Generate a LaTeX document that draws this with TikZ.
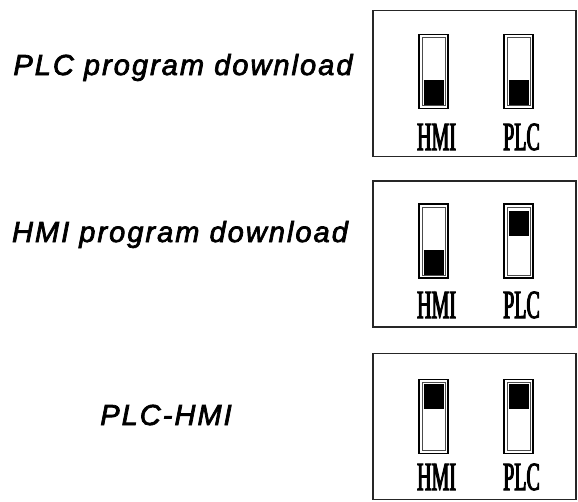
\documentclass[tikz,border=0pt]{standalone}
\usepackage{fontspec}
\usepackage{tikz}
\usetikzlibrary{positioning}

\newfontfamily\modefont[FakeBold=2.5, LetterSpace=7]{Liberation Sans}
\newfontfamily\tagfont[FakeStretch=0.5, FakeBold=2.5]{Liberation Serif}

\begin{document}
\begin{tikzpicture}[x=1pt, y=-1pt,
    panel/.style={rectangle, draw=black!85, line width=1.2pt, minimum width=203pt, minimum height=146pt, inner sep=0pt},
    slot/.style={rectangle, draw=black, line width=1.3pt, minimum width=29pt, minimum height=74pt, inner sep=0pt},
    slotin/.style={rectangle, draw=black!70, line width=0.5pt, minimum width=23pt, minimum height=68pt, inner sep=0pt},
    knob/.style={rectangle, fill=black, minimum width=20pt, minimum height=25pt, inner sep=0pt},
    tag/.style={font=\tagfont\fontsize{40}{40}\selectfont, inner sep=0pt, anchor=base},
    mode/.style={font=\modefont\itshape\fontsize{29}{29}\selectfont, inner sep=0pt, anchor=base},
]
\useasboundingbox (0,0) rectangle (578,501);

% PLC program download
\node[mode] (m1) at (183,75) {PLC program download};
\node[panel] (p1) at (474.5,83.5) {};
\node[slot] (h1) at (433.5,71.5) {};
\node[slotin] at (h1) {};
\node[slot] (l1) at (518.5,71.5) {};
\node[slotin] at (l1) {};
\node[knob, above=3.5pt of h1.south] (kh1) {};
\node[knob, above=3.5pt of l1.south] (kl1) {};
\node[tag] (th1) at (436.5,150) {HMI};
\node[tag] (tl1) at (521.5,150) {PLC};

% HMI program download
\node[mode] (m2) at (180,242) {HMI program download};
\node[panel] (p2) at (474.5,254) {};
\node[slot] (h2) at (433.5,241) {};
\node[slotin] at (h2) {};
\node[slot] (l2) at (518.5,241) {};
\node[slotin] at (l2) {};
\node[knob, above=3.5pt of h2.south] (kh2) {};
\node[knob, below=7pt of l2.north] (kl2) {};
\node[tag] (th2) at (436.5,318) {HMI};
\node[tag] (tl2) at (521.5,318) {PLC};

% PLC-HMI
\node[mode] (m3) at (166,425) {PLC-HMI};
\node[panel] (p3) at (474.5,426.5) {};
\node[slot] (h3) at (433.5,416.5) {};
\node[slotin] at (h3) {};
\node[slot] (l3) at (518.5,416.5) {};
\node[slotin] at (l3) {};
\node[knob, below=5pt of h3.north] (kh3) {};
\node[knob, below=5pt of l3.north] (kl3) {};
\node[tag] (th3) at (436.5,490) {HMI};
\node[tag] (tl3) at (521.5,490) {PLC};
\end{tikzpicture}
\end{document}
